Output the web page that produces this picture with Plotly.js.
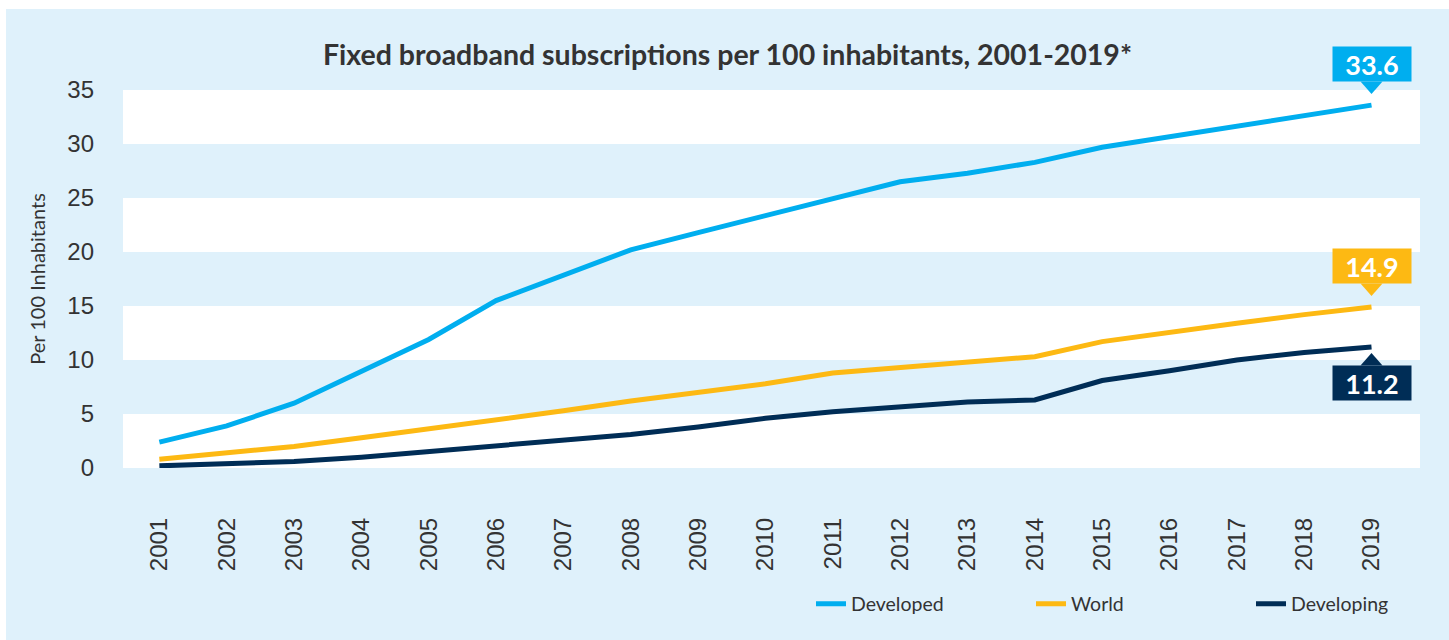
<!DOCTYPE html>
<html>
<head>
<meta charset="utf-8">
<script src="https://cdn.plot.ly/plotly-3.0.1.min.js"></script>
<style>
  html, body { margin: 0; padding: 0; background: #ffffff; width: 1449px; height: 640px; overflow: hidden; }
  #chart { position: absolute; left: 6px; top: 9px; width: 1443px; height: 631px; }
</style>
</head>
<body>
<div id="chart"></div>
<script>
// ---- Data ----
const years = [2001, 2002, 2003, 2004, 2005, 2006, 2007, 2008, 2009, 2010,
               2011, 2012, 2013, 2014, 2015, 2016, 2017, 2018, 2019];
const developed  = [2.4, 3.9, 6.0, 8.9, 11.9, 15.5, 17.8, 20.2, 21.8, 23.4,
                    25.0, 26.5, 27.3, 28.3, 29.7, 30.7, 31.7, 32.7, 33.6];
const world      = [0.8, 1.4, 2.0, 2.8, 3.6, 4.4, 5.3, 6.2, 7.0, 7.8,
                    8.8, 9.3, 9.8, 10.3, 11.7, 12.6, 13.4, 14.2, 14.9];
const developing = [0.2, 0.4, 0.6, 1.0, 1.5, 2.1, 2.6, 3.1, 3.8, 4.6,
                    5.2, 5.7, 6.1, 6.3, 8.1, 9.0, 10.0, 10.7, 11.2];
const seriesNames = ["Developed", "World", "Developing"];
const yTicks = [0, 5, 10, 15, 20, 25, 30, 35];
const xTickLabels = years.map(String);

// ---- Styling ----
const colors = { Developed: "#00aeef", World: "#fdb913", Developing: "#002d56" };
const bgBlue = "#dff1fb";
const textColor = "#333333";
const seriesData = { Developed: developed, World: world, Developing: developing };
const xRange = [2000.46, 2019.72];
const yRange = [0, 35];

const traces = seriesNames.map(name => ({
  type: "scatter",
  mode: "lines",
  name: name,
  x: years,
  y: seriesData[name],
  line: { color: colors[name], width: 5, shape: "linear" },
  hoverinfo: "x+y+name"
}));

// alternating white bands between y ticks
const shapes = [];
for (let i = 0; i < yTicks.length - 1; i++) {
  if (i % 2 === 0) {
    shapes.push({
      type: "rect", xref: "paper", yref: "y", layer: "below",
      x0: 0, x1: 1, y0: yTicks[i], y1: yTicks[i + 1],
      fillcolor: "#ffffff", line: { width: 0 }
    });
  }
}

// end-value callouts (box + pointer)
const annotations = [];
const lastIdx = years.length - 1;
const callouts = [
  { name: "Developed", above: true },
  { name: "World", above: true },
  { name: "Developing", above: false }
];
callouts.forEach(c => {
  const v = seriesData[c.name][lastIdx];
  const xv = years[lastIdx];
  annotations.push({
    x: xv, y: v, xref: "x", yref: "y",
    text: "<b>" + v.toFixed(1) + "</b>",
    showarrow: false,
    xanchor: "center",
    yanchor: c.above ? "bottom" : "top",
    yshift: c.above ? 23 : -18,
    bgcolor: colors[c.name],
    borderpad: 2,
    width: 74, height: 30,
    font: { family: "Lato, 'Liberation Sans', Arial, sans-serif", size: 27, color: "#ffffff" }
  });
  const path = c.above
    ? "M -11 23.5 L 11 23.5 L 0 11 Z"
    : "M -11 -18.5 L 11 -18.5 L 0 -6 Z";
  // pointer anchored at the series end point (paper refs so it is not clipped)
  shapes.push({
    type: "path", xref: "paper", yref: "paper",
    xsizemode: "pixel", ysizemode: "pixel",
    xanchor: (xv - xRange[0]) / (xRange[1] - xRange[0]),
    yanchor: (v - yRange[0]) / (yRange[1] - yRange[0]),
    path: path,
    fillcolor: colors[c.name], line: { width: 0 }
  });
});

const layout = {
  width: 1443, height: 631,
  paper_bgcolor: bgBlue,
  plot_bgcolor: bgBlue,
  margin: { l: 117, r: 29, t: 81, b: 172, autoexpand: false },
  title: {
    text: "<b>Fixed broadband subscriptions per 100 inhabitants, 2001-2019*</b>",
    font: { family: "Lato, 'Open Sans', sans-serif", size: 28.5, color: textColor },
    x: 0.5, xanchor: "center", xref: "container",
    y: 1 - 46 / 631, yanchor: "middle", yref: "container"
  },
  xaxis: {
    range: xRange,
    tickmode: "array",
    tickvals: years,
    ticktext: xTickLabels,
    tickangle: -90,
    tickfont: { family: "'Liberation Sans', Arial, sans-serif", size: 24, color: textColor },
    ticks: "",
    ticklabelstandoff: 44,
    showgrid: false, zeroline: false, showline: false,
    fixedrange: true
  },
  yaxis: {
    range: yRange,
    tickmode: "array",
    tickvals: yTicks,
    ticktext: yTicks.map(String),
    tickfont: { family: "'Liberation Sans', Arial, sans-serif", size: 24, color: textColor },
    ticks: "",
    ticklabelstandoff: 28,
    showgrid: false, zeroline: false, showline: false,
    title: {
      text: "Per 100 Inhabitants",
      font: { family: "Lato, 'Open Sans', sans-serif", size: 20, color: textColor },
      standoff: 16
    },
    fixedrange: true
  },
  showlegend: true,
  legend: {
    orientation: "h",
    xref: "container", yref: "container",
    x: 805 / 1443, xanchor: "left",
    y: 1 - 595 / 631, yanchor: "middle",
    bgcolor: "rgba(0,0,0,0)",
    entrywidth: 175, entrywidthmode: "pixels",
    font: { family: "Lato, 'Open Sans', sans-serif", size: 19.5, color: textColor },
    traceorder: "normal"
  },
  shapes: shapes,
  annotations: annotations
};

Plotly.newPlot("chart", traces, layout, { displayModeBar: false, staticPlot: true });
</script>
</body>
</html>
